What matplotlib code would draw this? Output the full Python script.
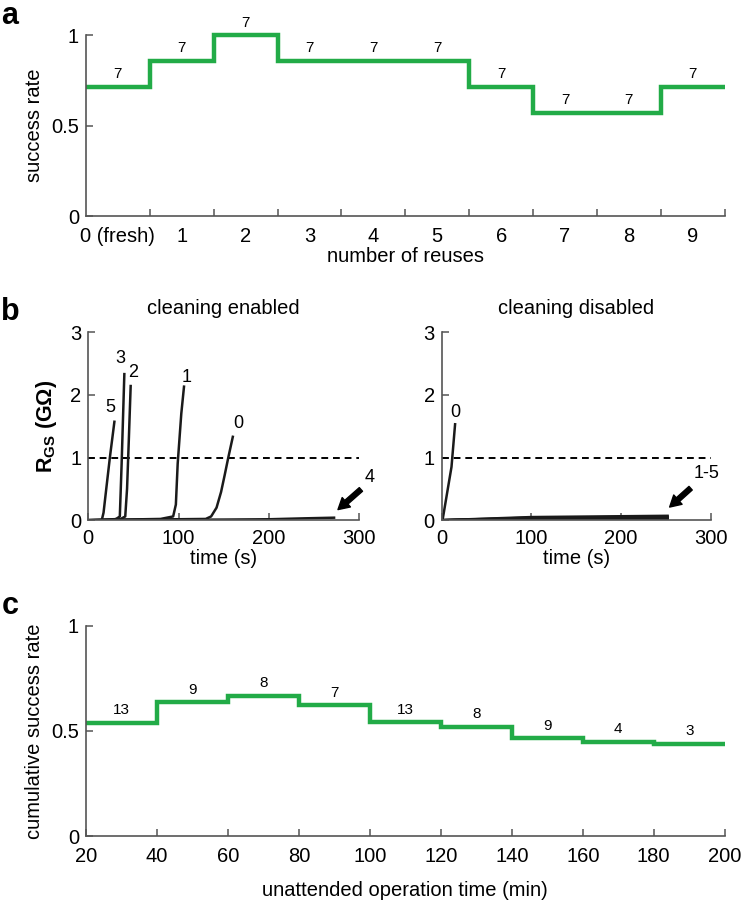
import numpy as np
import matplotlib
matplotlib.use("Agg")
import matplotlib.pyplot as plt

plt.rcParams['font.family'] = ['Liberation Sans', 'DejaVu Sans']
plt.rcParams['mathtext.fontset'] = 'custom'
plt.rcParams['mathtext.rm'] = 'Liberation Sans'
plt.rcParams['mathtext.bf'] = 'Liberation Sans:bold'

GREEN = '#22ab47'
SPINE = '#555555'
FS = 14.5

# ---------------- data ----------------
# panel a
reuse_labels = ['0 (fresh)', '1', '2', '3', '4', '5', '6', '7', '8', '9']
reuse_rate = [5/7, 6/7, 7/7, 6/7, 6/7, 6/7, 5/7, 4/7, 4/7, 5/7]
reuse_n = [7, 7, 7, 7, 7, 7, 7, 7, 7, 7]

# panel b, cleaning enabled (time s, R GOhm)
en_labels = ['5', '3', '2', '1', '0', '4']
en_t = [
    [0, 15, 17, 20, 24, 29],
    [0, 28, 32, 35, 37, 40],
    [0, 36, 41, 43, 45, 47],
    [0, 80, 94, 97, 99, 101, 103, 106],
    [0, 130, 136, 142, 147, 151, 155, 160],
    [0, 150, 200, 240, 272],
]
en_R = [
    [0, 0, 0.12, 0.5, 1.0, 1.57],
    [0, 0, 0.03, 0.06, 0.9, 2.33],
    [0, 0.02, 0.06, 0.5, 1.3, 2.14],
    [0, 0.02, 0.06, 0.25, 0.9, 1.3, 1.7, 2.13],
    [0, 0.02, 0.06, 0.2, 0.45, 0.72, 1.0, 1.33],
    [0, 0.01, 0.015, 0.03, 0.04],
]
en_label_pos = [(24, 1.8), (36, 2.58), (50, 2.35), (109, 2.28), (166, 1.55)]

# panel b, cleaning disabled
dis_t = [
    [0, 1, 11, 15],
    [0, 100, 252],
    [0, 100, 252],
    [0, 100, 252],
    [0, 100, 252],
    [0, 100, 252],
]
dis_R = [
    [0, 0, 0.85, 1.53],
    [0, 0.01, 0.015],
    [0, 0.02, 0.03],
    [0, 0.03, 0.045],
    [0, 0.04, 0.055],
    [0, 0.05, 0.07],
]

# panel c
op_edges = [20, 40, 60, 80, 100, 120, 140, 160, 180, 200]
op_rate = [0.538, 0.636, 0.667, 0.622, 0.541, 0.52, 0.465, 0.449, 0.438]
op_n = [13, 9, 8, 7, 13, 8, 9, 4, 3]

# ---------------- figure ----------------
fig = plt.figure(figsize=(7.41, 9.0), dpi=100)


def style(ax):
    for s in ['top', 'right']:
        ax.spines[s].set_visible(False)
    for s in ['left', 'bottom']:
        ax.spines[s].set_color(SPINE)
        ax.spines[s].set_linewidth(1.2)
    ax.tick_params(which='both', direction='in', color=SPINE, width=1.1,
                   labelsize=FS, labelcolor='black')
    ax.tick_params(which='major', length=5)
    ax.tick_params(axis='x', pad=6)
    ax.tick_params(axis='y', pad=5)


# panel a
axa = fig.add_axes([0.116, 0.760, 0.862, 0.201])
style(axa)
edges_a = np.arange(len(reuse_rate) + 1) - 0.5
axa.stairs(reuse_rate, edges_a, color=GREEN, lw=3.2, baseline=None, clip_on=False)
axa.set_xlim(-0.5, 9.5)
axa.set_ylim(0, 1)
axa.set_yticks([0, 0.5, 1])
axa.set_yticklabels(['0', '0.5', '1'])
axa.set_xticks(np.arange(10))
axa.set_xticklabels(reuse_labels)
axa.tick_params(axis='x', which='major', length=0, pad=8)
axa.set_xticks(edges_a[1:], minor=True)
axa.tick_params(axis='x', which='minor', length=5)
for i, (v, n) in enumerate(zip(reuse_rate, reuse_n)):
    axa.annotate(str(n), (i, v), xytext=(0, 4), textcoords='offset points',
                 ha='center', va='bottom', fontsize=11, annotation_clip=False)
axa.set_xlabel('number of reuses', fontsize=FS, labelpad=1)
axa.set_ylabel('success rate', fontsize=FS, labelpad=5)

# panel b left
axb1 = fig.add_axes([0.119, 0.422, 0.366, 0.209])
style(axb1)
axb1.axhline(1, color='black', lw=1.4, ls=(0, (3.5, 2.5)), xmin=0, xmax=1)
for t, r in zip(en_t, en_R):
    axb1.plot(t, r, color='#1a1a1a', lw=1.8, solid_joinstyle='round')
for lab, (x, y) in zip(en_labels[:5], en_label_pos):
    axb1.text(x, y, lab, ha='center', va='center', fontsize=13)
axb1.annotate('', xy=(274, 0.14), xytext=(304, 0.52),
              arrowprops=dict(arrowstyle='simple,head_width=0.9,head_length=0.8,tail_width=0.35',
                              color='black'), annotation_clip=False)
axb1.text(311, 0.68, '4', ha='center', va='center', fontsize=13, clip_on=False)
axb1.set_xlim(0, 300)
axb1.set_ylim(0, 3)
axb1.set_xticks([0, 100, 200, 300])
axb1.set_yticks([0, 1, 2, 3])
axb1.set_xlabel('time (s)', fontsize=FS, labelpad=1)
axb1.set_ylabel(r'R$_{\mathbf{GS}}$ (GΩ)', fontsize=FS + 1, fontweight='bold', labelpad=8)
axb1.set_title('cleaning enabled', fontsize=FS, pad=13)

# panel b right
axb2 = fig.add_axes([0.596, 0.422, 0.363, 0.209])
style(axb2)
axb2.axhline(1, color='black', lw=1.4, ls=(0, (3.5, 2.5)))
for t, r in zip(dis_t, dis_R):
    axb2.plot(t, r, color='#1a1a1a', lw=1.8)
axb2.text(15, 1.72, '0', ha='center', va='center', fontsize=13)
axb2.annotate('', xy=(252, 0.18), xytext=(280, 0.54),
              arrowprops=dict(arrowstyle='simple,head_width=0.9,head_length=0.8,tail_width=0.35',
                              color='black'), annotation_clip=False)
axb2.text(296, 0.74, '1-5', ha='center', va='center', fontsize=13, clip_on=False)
axb2.set_xlim(0, 300)
axb2.set_ylim(0, 3)
axb2.set_xticks([0, 100, 200, 300])
axb2.set_yticks([0, 1, 2, 3])
axb2.set_xlabel('time (s)', fontsize=FS, labelpad=1)
axb2.set_title('cleaning disabled', fontsize=FS, pad=13)

# panel c
axc = fig.add_axes([0.116, 0.071, 0.862, 0.234])
style(axc)
axc.stairs(op_rate, op_edges, color=GREEN, lw=3.2, baseline=None)
axc.set_xlim(20, 200)
axc.set_ylim(0, 1)
axc.set_xticks(op_edges)
axc.set_yticks([0, 0.5, 1])
axc.set_yticklabels(['0', '0.5', '1'])
for i, (v, n) in enumerate(zip(op_rate, op_n)):
    xc = (op_edges[i] + op_edges[i + 1]) / 2
    axc.annotate(str(n), (xc, v), xytext=(0, 4), textcoords='offset points',
                 ha='center', va='bottom', fontsize=11)
axc.tick_params(axis='x', pad=8)
axc.set_xlabel('unattended operation time (min)', fontsize=FS, labelpad=11)
axc.set_ylabel('cumulative success rate', fontsize=FS, labelpad=5)

# panel letters
fig.text(0.002, 0.999, 'a', fontsize=22, fontweight='bold', va='top', ha='left')
fig.text(0.002, 0.670, 'b', fontsize=22, fontweight='bold', va='top', ha='left')
fig.text(0.002, 0.343, 'c', fontsize=22, fontweight='bold', va='top', ha='left')

fig.savefig('out.png', dpi=100)
